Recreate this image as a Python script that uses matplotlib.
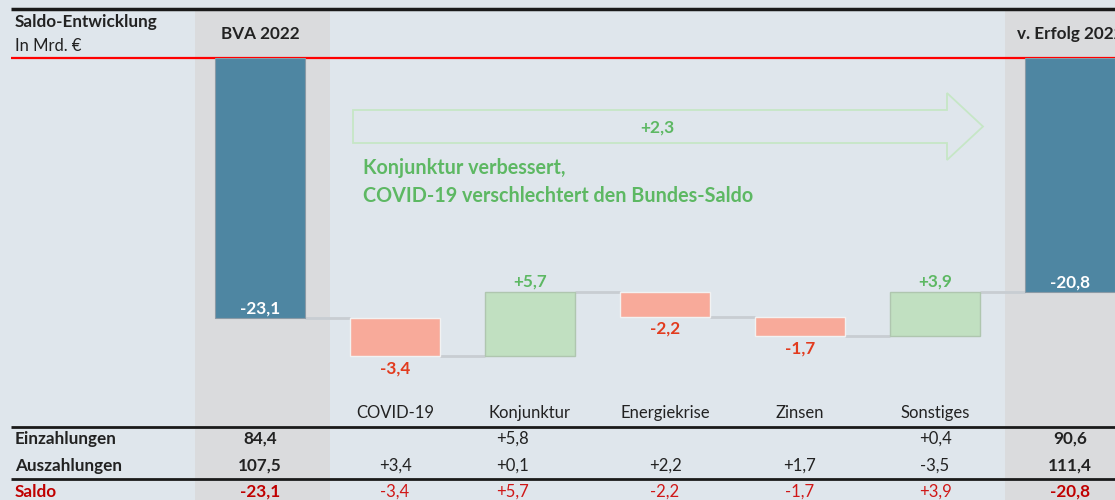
import matplotlib
matplotlib.use("Agg")
import matplotlib.pyplot as plt
from matplotlib.transforms import blended_transform_factory
from matplotlib.patches import Polygon, Rectangle
import numpy as np

plt.rcParams['font.family'] = ['Lato', 'DejaVu Sans']

# ---- data ----
categories = ["BVA 2022", "COVID-19", "Konjunktur", "Energiekrise", "Zinsen", "Sonstiges", "v. Erfolg 2022"]
start_saldo = -23.1
deltas = [-3.4, 5.7, -2.2, -1.7, 3.9]
end_saldo = -20.8
einzahlungen = ["84,4", "", "+5,8", "", "", "+0,4", "90,6"]
auszahlungen = ["107,5", "+3,4", "+0,1", "+2,2", "+1,7", "-3,5", "111,4"]
saldo_row = [-23.1, -3.4, 5.7, -2.2, -1.7, 3.9, -20.8]
arrow_label = "+2,3"
headline = "Konjunktur verbessert,\nCOVID-19 verschlechtert den Bundes-Saldo"

BG = "#DFE6EC"
GRAYCOL = "#DADBDD"
BLUE = "#4E86A2"
SALMON = "#F8AA9A"
LGREEN = "#C1E0C1"
GREENTXT = "#5DB863"
REDTXT = "#E23B1E"
DARKRED = "#C00000"
CONN = "#C8CDD2"

FS = 12.0      # regular text
FSB = 12.3     # bold text

def de(v, sign=True):
    s = f"{v:+.1f}" if sign else f"{v:.1f}"
    return s.replace(".", ",")

W, H = 1115, 500
fig = plt.figure(figsize=(W/100, H/100), dpi=100)
fig.patch.set_facecolor(BG)

ov = fig.add_axes([0, 0, 1, 1], zorder=0)
ov.set_xlim(0, W); ov.set_ylim(H, 0); ov.axis("off")

x0px, step = 260, 135
ax = fig.add_axes([0, 0.2, 1, 0.684], zorder=1)
ax.patch.set_alpha(0)
ax.set_xlim(-x0px/step, (W - x0px)/step)
ax.set_ylim(-342/11.26, 0)
ax.axis("off")

tr = blended_transform_factory(ax.transData, ov.transData)
n = len(categories)
xs = np.arange(n)

# gray highlight columns
for i in (0, n-1):
    ov.add_patch(Rectangle((i-0.48, 10), 1.0, H-10, transform=tr, facecolor=GRAYCOL, edgecolor="none", zorder=0))

# lines
ov.plot([11, W], [9, 9], color="#1A1A1A", lw=2.5, zorder=2, solid_capstyle="butt")
ov.plot([11, W], [57.5, 57.5], color="#FF0000", lw=1.6, zorder=2, solid_capstyle="butt")
ov.plot([11, W], [427, 427], color="#1A1A1A", lw=2, zorder=2, solid_capstyle="butt")
ov.plot([11, W], [479, 479], color="#1A1A1A", lw=2, zorder=2, solid_capstyle="butt")

# waterfall
bw = 90/135
levels = [start_saldo]
for d in deltas:
    levels.append(levels[-1] + d)
ax.bar(0, start_saldo, bottom=0, width=bw, color=BLUE, edgecolor="#8A9AA6", lw=0.8, zorder=3)
ax.bar(n-1, end_saldo, bottom=0, width=bw, color=BLUE, edgecolor="#8A9AA6", lw=0.8, zorder=3)
for k, d in enumerate(deltas):
    i = k + 1
    col = LGREEN if d > 0 else SALMON
    ec = "#AFC6AF" if d > 0 else "#F2F2F2"
    ax.bar(i, d, bottom=levels[k], width=bw, color=col, edgecolor=ec, lw=1.0, zorder=3)

# connectors
for i in range(n-1):
    lvl = levels[i]
    ax.plot([i + bw/2, i + 1 - bw/2], [lvl, lvl], color=CONN, lw=2, zorder=2, solid_capstyle="butt")

# bar labels
lblkw = dict(fontsize=12.3, fontweight="bold", ha="center")
ax.annotate(de(start_saldo, False), (0, start_saldo), xytext=(0, 2), textcoords="offset pixels",
            va="bottom", color="white", zorder=5, **lblkw)
ax.annotate(de(end_saldo, False), (n-1, end_saldo), xytext=(0, 2), textcoords="offset pixels",
            va="bottom", color="white", zorder=5, **lblkw)
for k, d in enumerate(deltas):
    i = k + 1
    top = max(levels[k], levels[k+1]); bot = min(levels[k], levels[k+1])
    if d > 0:
        ax.annotate(de(d), (i, top), xytext=(0, 3), textcoords="offset pixels", va="bottom",
                    color=GREENTXT, zorder=5, **lblkw)
    else:
        ax.annotate(de(d), (i, bot), xytext=(0, -4), textcoords="offset pixels", va="top",
                    color=REDTXT, zorder=5, **lblkw)

# arrow outline
arrow_pts = [(353, 110), (947, 110), (947, 93), (983, 126.5), (947, 160), (947, 143), (353, 143)]
ov.add_patch(Polygon(arrow_pts, closed=True, facecolor="none", edgecolor="#C6E6C6", lw=1.3, zorder=2))
ov.text(657, 128, arrow_label, ha="center", va="center", color=GREENTXT, fontsize=12.5, fontweight="bold", zorder=3)
ov.text(363, 182, headline, ha="left", va="center", color=GREENTXT, fontsize=14.2, fontweight="bold",
        linespacing=1.45, zorder=3)

# header texts
ov.text(15, 22, "Saldo-Entwicklung", ha="left", va="center", fontsize=FSB, fontweight="bold", color="#222222", zorder=3)
ov.text(15, 46, "In Mrd. €", ha="left", va="center", fontsize=FS, color="#222222", zorder=3)
for i in (0, n-1):
    ov.text(i, 34, categories[i], transform=tr, ha="center", va="center", fontsize=FSB,
            fontweight="bold", color="#222222", zorder=3, clip_on=False)
for i in range(1, n-1):
    ov.text(i, 413, categories[i], transform=tr, ha="center", va="center", fontsize=FS, color="#222222", zorder=3)

# table
rows_y = [439, 466, 492]
ov.text(15, rows_y[0], "Einzahlungen", ha="left", va="center", fontsize=FSB, fontweight="bold", color="#222222", zorder=3)
ov.text(15, rows_y[1], "Auszahlungen", ha="left", va="center", fontsize=FSB, fontweight="bold", color="#222222", zorder=3)
ov.text(15, rows_y[2], "Saldo", ha="left", va="center", fontsize=FSB, fontweight="bold", color=DARKRED, zorder=3)
for i in range(n):
    xo = i - 0.13 if categories[i] == "Konjunktur" else i
    bold = i in (0, n-1)
    fw = "bold" if bold else "normal"
    fs = FSB if bold else FS
    ov.text(xo, rows_y[0], einzahlungen[i], transform=tr, ha="center", va="center", fontsize=fs,
            fontweight=fw, color="#222222", zorder=3)
    ov.text(xo, rows_y[1], auszahlungen[i], transform=tr, ha="center", va="center", fontsize=fs,
            fontweight=fw, color="#222222", zorder=3)
    ov.text(xo, rows_y[2], de(saldo_row[i], sign=not bold), transform=tr, ha="center", va="center", fontsize=fs,
            fontweight=fw, color=DARKRED if bold else "#D01818", zorder=3)

fig.savefig("out.png", dpi=100, facecolor=BG)
